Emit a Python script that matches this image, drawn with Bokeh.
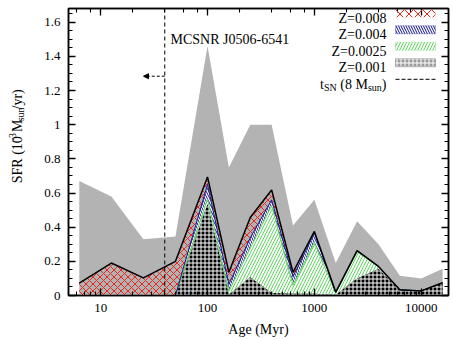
import math
from bokeh.plotting import figure
from bokeh.layouts import row
from bokeh.models import (Range1d, LogAxis, LinearAxis, LogTicker, FixedTicker,
                          CustomJSTickFormatter, Label, Span, Arrow, NormalHead,
                          BoxAnnotation, ColumnDataSource)
from bokeh.embed import file_html
from bokeh.resources import INLINE

# ---------------- data ----------------
log_age = [6.8, 7.1, 7.4, 7.7, 8.0, 8.2, 8.4, 8.6, 8.8, 9.0, 9.2, 9.4, 9.6, 9.8, 10.0, 10.2]
sfr_z0001 = [0, 0, 0, 0, 0.535, 0.005, 0.107, 0.015, 0.01, 0.01, 0.005, 0.10, 0.155, 0.033, 0.027, 0.075]
sfr_z00025 = [0, 0, 0, 0, 0.03, 0.02, 0.17, 0.51, 0.05, 0.30, 0.008, 0.155, 0.015, 0, 0, 0]
sfr_z0004 = [0, 0, 0, 0, 0.085, 0.04, 0.06, 0.035, 0.05, 0.055, 0.005, 0.008, 0, 0, 0, 0]
sfr_z0008 = [0.072, 0.19, 0.103, 0.2, 0.044, 0.071, 0.12, 0.058, 0.026, 0.01, 0.002, 0, 0, 0, 0, 0]
sfr_upper = [0.67, 0.58, 0.33, 0.345, 1.46, 0.75, 1.0, 1.0, 0.41, 0.56, 0.19, 0.434, 0.30, 0.115, 0.10, 0.156]
t_sn_myr = 39.8
series_labels = ["Z=0.008", "Z=0.004", "Z=0.0025", "Z=0.001"]
y_ticks = [0, 0.2, 0.4, 0.6, 0.8, 1.0, 1.2, 1.4, 1.6]
title_text = "MCSNR J0506-6541"

age = [10 ** (a - 6) for a in log_age]
c1 = list(sfr_z0001)
c2 = [a + b for a, b in zip(c1, sfr_z00025)]
c3 = [a + b for a, b in zip(c2, sfr_z0004)]
c4 = [a + b for a, b in zip(c3, sfr_z0008)]
src = ColumnDataSource(dict(age=age, zero=[0] * len(age), c1=c1, c2=c2, c3=c3, c4=c4, up=sfr_upper))

FONT = "Liberation Serif"
RED, NAVY, GREEN, GRAY = "#e8281e", "#14148c", "#5cd65c", "#b3b3b3"
CHECK = dict(fill_color="black", hatch_pattern="+", hatch_color="white", hatch_scale=4, hatch_weight=1)

W_LAB = 26          # width of the strip holding the rotated y label
FR_L, FR_R, FR_T, FR_B = 68, 448, 8, 295   # frame edges on the page

XR = (5.0, 18000.0)
YR = (0.0, 1.68)
p = figure(x_axis_type="log", x_range=Range1d(*XR), y_range=Range1d(*YR),
           frame_width=FR_R - FR_L, frame_height=FR_B - FR_T, min_border_left=FR_L - W_LAB,
           min_border_right=453 - FR_R, min_border_top=FR_T, min_border_bottom=340 - FR_B,
           output_backend="svg", toolbar_location=None,
           background_fill_color="white", border_fill_color="white")
p.grid.visible = False
p.outline_line_color = "black"
p.outline_line_width = 1.5

# helpers mapping page pixel positions (for decorations) to data space
LX0, LX1 = math.log10(XR[0]), math.log10(XR[1])
def dx(px):
    return 10 ** (LX0 + (px - FR_L) / (FR_R - FR_L) * (LX1 - LX0))
def dy(py):
    return YR[0] + (FR_B - py) / (FR_B - FR_T) * (YR[1] - YR[0])

# ---------------- areas ----------------
p.varea(x="age", y1="zero", y2="up", source=src, fill_color=GRAY, fill_alpha=1)
p.varea(x="age", y1="c3", y2="c4", source=src, fill_alpha=0,
        hatch_pattern="x", hatch_color=RED, hatch_scale=7, hatch_weight=1)
p.varea(x="age", y1="c2", y2="c3", source=src, fill_color="white",
        hatch_pattern="\\", hatch_color=NAVY, hatch_scale=5, hatch_weight=1)
p.varea(x="age", y1="c1", y2="c2", source=src, fill_color="white",
        hatch_pattern="/", hatch_color=GREEN, hatch_scale=6, hatch_weight=1)
p.varea(x="age", y1="zero", y2="c1", source=src, **CHECK)
p.line(x="age", y="c2", source=src, line_color=GREEN, line_width=1)
p.line(x="age", y="c3", source=src, line_color=NAVY, line_width=1)
p.line(x="age", y="c4", source=src, line_color="black", line_width=1.5)

# t_SN marker
p.add_layout(Span(location=t_sn_myr, dimension="height", line_color="black", line_dash="4 3", line_width=1))
p.add_layout(Arrow(end=NormalHead(size=5, fill_color="black", line_color="black", line_width=1),
                   x_start=t_sn_myr, y_start=dy(75.7), x_end=dx(143), y_end=dy(75.7),
                   line_dash="3 2", line_width=1, line_color="black"))

def lab(text, px, py, size=14, align="left"):
    p.add_layout(Label(x=dx(px), y=dy(py), text=text, text_font=FONT, text_font_size=f"{size}px",
                       text_align=align, text_baseline="alphabetic", text_color="black"))

lab(title_text, 170, 39)

# ---------------- legend (manual, labels left of swatches) ----------------
row_base = [17.5, 34, 50.5, 67]
sw_style = [
    dict(fill_alpha=0, line_alpha=0, hatch_pattern="x", hatch_color=RED, hatch_scale=9, hatch_weight=1),
    dict(fill_color="white", line_color=NAVY, line_width=1, hatch_pattern="\\", hatch_color=NAVY, hatch_scale=5, hatch_weight=1),
    dict(fill_color="white", line_color=GREEN, line_width=1, hatch_pattern="/", hatch_color=GREEN, hatch_scale=6, hatch_weight=1),
    dict(line_color="#444444", line_width=1, **CHECK),
]
for name, yb, st in zip(series_labels, row_base, sw_style):
    lab(name, 386, yb, align="right")
    yc = yb - 4.7
    p.add_layout(BoxAnnotation(left=dx(395), right=dx(435), top=dy(yc - 4), bottom=dy(yc + 4), **st))

yb = 83.5
lab("t", 319.6, yb)
lab("SN", 323.5, yb + 3, size=10)
lab("(8 M", 339.8, yb)
lab("sun", 367.4, yb + 3, size=10)
lab(")", 381.3, yb)
p.add_layout(Arrow(end=None, x_start=dx(395), y_start=dy(yb - 4.7), x_end=dx(435), y_end=dy(yb - 4.7),
                   line_dash="4 2", line_width=1, line_color="black"))

# ---------------- axes ----------------
yt = FixedTicker(ticks=y_ticks, minor_ticks=[i * 0.05 for i in range(34)])
fmt_y = CustomJSTickFormatter(code="return Number(tick.toFixed(2)).toString();")
fmt_x = CustomJSTickFormatter(code="return Math.round(tick).toString();")
blank = CustomJSTickFormatter(code="return '';")

xa = p.xaxis[0]
ya = p.yaxis[0]
ya.ticker = yt
ya.formatter = fmt_y
xa.formatter = fmt_x
xa.axis_label = "Age (Myr)"
top = LogAxis(ticker=LogTicker(), formatter=blank)
right = LinearAxis(ticker=yt, formatter=blank)
p.add_layout(top, "above")
p.add_layout(right, "right")
for ax in (xa, ya, top, right):
    ax.major_tick_in = 7
    ax.major_tick_out = 0
    ax.minor_tick_in = 4
    ax.minor_tick_out = 0
    ax.major_tick_line_width = 1.3
    ax.minor_tick_line_width = 1.1
    ax.axis_line_width = 1.5
    ax.major_tick_line_color = "black"
    ax.minor_tick_line_color = "black"
    ax.axis_line_color = "black"
    ax.major_label_text_font = FONT
    ax.major_label_text_font_size = "13px"
    ax.major_label_text_color = "black"
    ax.axis_label_text_font = FONT
    ax.axis_label_text_font_size = "14px"
    ax.axis_label_text_font_style = "normal"
    ax.axis_label_text_color = "black"
for ax in (top, right):
    ax.major_label_text_font_size = "0px"
    ax.major_label_standoff = 0
xa.major_label_standoff = 8
xa.axis_label_standoff = 7
ya.major_label_standoff = 8

# ---------------- rotated y-axis label in a narrow strip ----------------
yl = figure(width=W_LAB, height=340, x_range=Range1d(0, W_LAB), y_range=Range1d(0, 340),
            min_border=0, output_backend="svg", toolbar_location=None,
            background_fill_color="white", border_fill_color="white")
yl.axis.visible = False
yl.grid.visible = False
yl.outline_line_color = None

def ylab(text, px, py, size=14):
    yl.add_layout(Label(x=px, y=340 - py, text=text, text_font=FONT, text_font_size=f"{size}px",
                        text_align="left", text_baseline="alphabetic", text_color="black",
                        angle=math.pi / 2))

ylab("SFR (10", 17, 207)
ylab("-3", 11.5, 157.3, size=10)
ylab("M", 17, 146.3)
ylab("sun", 20, 133.6, size=10)
ylab("/yr)", 17, 119.6)

layout = row(yl, p, spacing=0)
open("out.html", "w").write(file_html(layout, INLINE))
